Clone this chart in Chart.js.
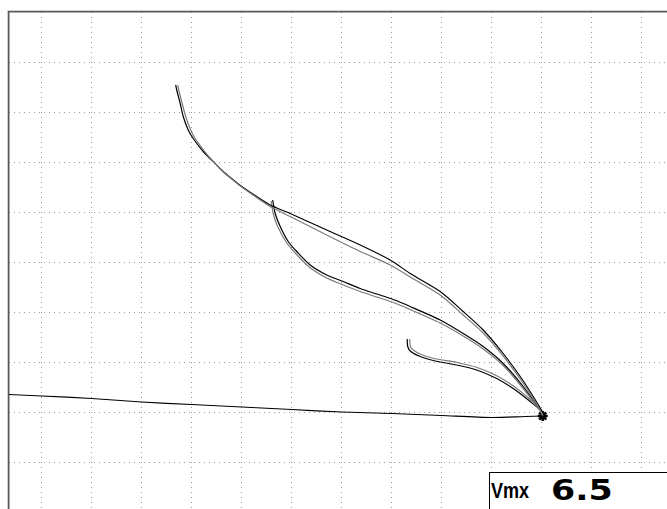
<!DOCTYPE html>
<html>
<head>
<meta charset="utf-8">
<script src="https://cdn.jsdelivr.net/npm/chart.js@4.4.0/dist/chart.umd.min.js"></script>
<style>
  html, body { margin: 0; padding: 0; background: #fff; }
  #wrap { position: relative; width: 667px; height: 509px; overflow: hidden; }
  #plot { display: block; }
  #vmx {
    position: absolute; left: 489px; top: 472px; width: 220px; height: 60px;
    border: 1px solid #000; background: #fff;
  }
  #vmx .lbl {
    position: absolute; left: 1px; top: 5px; line-height: 22px;
    font: bold 22px "Liberation Sans", Arial, sans-serif;
    transform: scaleX(0.82); transform-origin: left top; color: #000;
  }
  #vmx .val {
    position: absolute; left: 61px; top: 0px; line-height: 29px;
    font: bold 29px "DejaVu Sans", sans-serif;
    transform: scaleX(1.2); transform-origin: left top; color: #000;
  }
</style>
</head>
<body>
<div id="wrap">
  <canvas id="plot" width="667" height="509"></canvas>
  <div id="vmx"><span class="lbl">Vmx</span><span class="val">6.5</span></div>
</div>
<script>
// grid divisions (one division = one unit)
const gridX = [0, 1, 2, 3, 4, 5, 6, 7, 8, 9, 10, 11, 12];
const gridY = [0, 1, 2, 3, 4, 5, 6, 7, 8];

// balance point
const nullPoint = [[10.02, 0.92]];

// lift-off line
const liftOff = [
    [-0.66, 1.35], [0, 1.32], [1, 1.27], [2, 1.2], [3, 1.15], [4, 1.1], [5, 1.05],
    [6, 1.0], [7, 0.97], [8, 0.93], [9, 0.89], [9.67, 0.91], [10.02, 0.92]
];

// big signal, two sweeps
const bigSignalA = [
    [2.68, 7.54], [2.70, 7.44], [2.77, 7.17], [2.83, 6.91], [2.93, 6.64], [3.03, 6.47],
    [3.23, 6.21], [3.43, 6.01], [3.63, 5.81], [3.80, 5.67], [4.00, 5.51], [4.30, 5.31],
    [4.57, 5.14], [4.97, 4.97], [5.70, 4.64], [6.37, 4.34], [6.97, 4.04], [7.37, 3.77],
    [7.97, 3.41], [8.43, 3.01], [8.83, 2.64], [9.23, 2.17], [9.57, 1.71], [9.83, 1.31],
    [10.03, 0.97], [10.02, 0.92]
];
const bigSignalB = [
    [2.72, 7.54], [2.74, 7.44], [2.81, 7.17], [2.88, 6.91], [2.98, 6.64], [3.07, 6.47],
    [3.26, 6.21], [3.43, 6.01], [3.63, 5.80], [3.80, 5.66], [4.00, 5.50], [4.30, 5.29],
    [4.57, 5.11], [4.97, 4.91], [5.70, 4.54], [6.37, 4.21], [6.97, 3.94], [7.37, 3.70],
    [7.97, 3.34], [8.43, 2.94], [8.83, 2.58], [9.23, 2.12], [9.57, 1.66], [9.83, 1.27],
    [10.01, 0.96], [10.02, 0.92]
];

// lower leaf, two sweeps
const leafA = [
    [4.62, 5.24], [4.67, 4.97], [4.77, 4.71], [4.93, 4.41], [5.10, 4.21], [5.37, 3.94],
    [5.70, 3.74], [6.03, 3.61], [6.37, 3.47], [6.70, 3.36], [7.03, 3.25], [7.37, 3.11],
    [7.97, 2.84], [8.43, 2.57], [8.83, 2.31], [9.23, 1.97], [9.63, 1.51], [9.97, 1.04],
    [10.02, 0.92]
];
const leafB = [
    [4.59, 5.22], [4.63, 4.97], [4.72, 4.71], [4.89, 4.40], [5.07, 4.18], [5.35, 3.90],
    [5.70, 3.68], [6.03, 3.54], [6.37, 3.41], [6.70, 3.30], [7.03, 3.19], [7.37, 3.05],
    [7.97, 2.78], [8.43, 2.52], [8.83, 2.26], [9.23, 1.93], [9.63, 1.47], [9.97, 1.02],
    [10.02, 0.92]
];

// small signal, two sweeps
const smallA = [
    [7.31, 2.46], [7.32, 2.31], [7.38, 2.21], [7.57, 2.11], [7.83, 2.03], [8.30, 1.94],
    [8.70, 1.84], [9.10, 1.67], [9.43, 1.47], [9.77, 1.21], [10.0, 1.01], [10.02, 0.92]
];
const smallB = [
    [7.36, 2.46], [7.37, 2.32], [7.43, 2.24], [7.59, 2.15], [7.85, 2.07], [8.31, 1.99],
    [8.71, 1.89], [9.11, 1.72], [9.45, 1.51], [9.79, 1.23], [10.01, 1.02], [10.02, 0.92]
];

const BLACK = '#000000';
const GREY = '#7a7a7a';

function toXY(pts) {
    return pts.map(p => ({ x: p[0], y: p[1] }));
}

function trace(pts, color) {
    return {
        data: toXY(pts),
        showLine: true,
        borderColor: color,
        borderWidth: 1.2,
        pointRadius: 0,
        tension: 0.25,
        fill: false
    };
}

// frame line along the top and left of the plot area
const framePlugin = {
    id: 'frame',
    beforeDatasetsDraw(chart) {
        const { ctx, chartArea } = chart;
        ctx.save();
        ctx.lineWidth = 1;
        ctx.strokeStyle = '#d0d0d0';
        ctx.beginPath();
        ctx.moveTo(chartArea.left - 1.5, chart.height);
        ctx.lineTo(chartArea.left - 1.5, chartArea.top - 1.5);
        ctx.lineTo(chart.width, chartArea.top - 1.5);
        ctx.stroke();
        ctx.strokeStyle = '#5a5a5a';
        ctx.lineWidth = 1.5;
        ctx.beginPath();
        ctx.moveTo(chartArea.left - 0.25, chart.height);
        ctx.lineTo(chartArea.left - 0.25, chartArea.top - 0.25);
        ctx.lineTo(chart.width, chartArea.top - 0.25);
        ctx.stroke();
        ctx.restore();
    }
};

new Chart(document.getElementById('plot'), {
    type: 'scatter',
    data: {
        datasets: [
            trace(liftOff, BLACK),
            trace(bigSignalB, GREY),
            trace(bigSignalA, BLACK),
            trace(leafB, GREY),
            trace(leafA, BLACK),
            trace(smallB, GREY),
            trace(smallA, BLACK),
            {
                data: toXY(nullPoint),
                pointStyle: 'star',
                pointRadius: 5,
                borderWidth: 2.5,
                borderColor: BLACK,
                backgroundColor: BLACK
            }
        ]
    },
    options: {
        responsive: false,
        animation: false,
        devicePixelRatio: 1,
        layout: { autoPadding: false, padding: { left: 9, top: 12, right: 0, bottom: 0 } },
        plugins: {
            legend: { display: false },
            tooltip: { enabled: false }
        },
        scales: {
            x: {
                type: 'linear',
                min: -0.654,
                max: 12.506,
                afterBuildTicks: scale => { scale.ticks = gridX.map(v => ({ value: v })); },
                ticks: { display: false },
                grid: { color: '#9a9a9a', lineWidth: 1, drawTicks: false },
                border: { display: false, dash: [1, 4] }
            },
            y: {
                type: 'linear',
                min: -0.94,
                max: 9,
                afterBuildTicks: scale => { scale.ticks = gridY.map(v => ({ value: v })); },
                ticks: { display: false },
                grid: { color: '#9a9a9a', lineWidth: 1, drawTicks: false },
                border: { display: false, dash: [1, 4] }
            }
        }
    },
    plugins: [framePlugin]
});
</script>
</body>
</html>
